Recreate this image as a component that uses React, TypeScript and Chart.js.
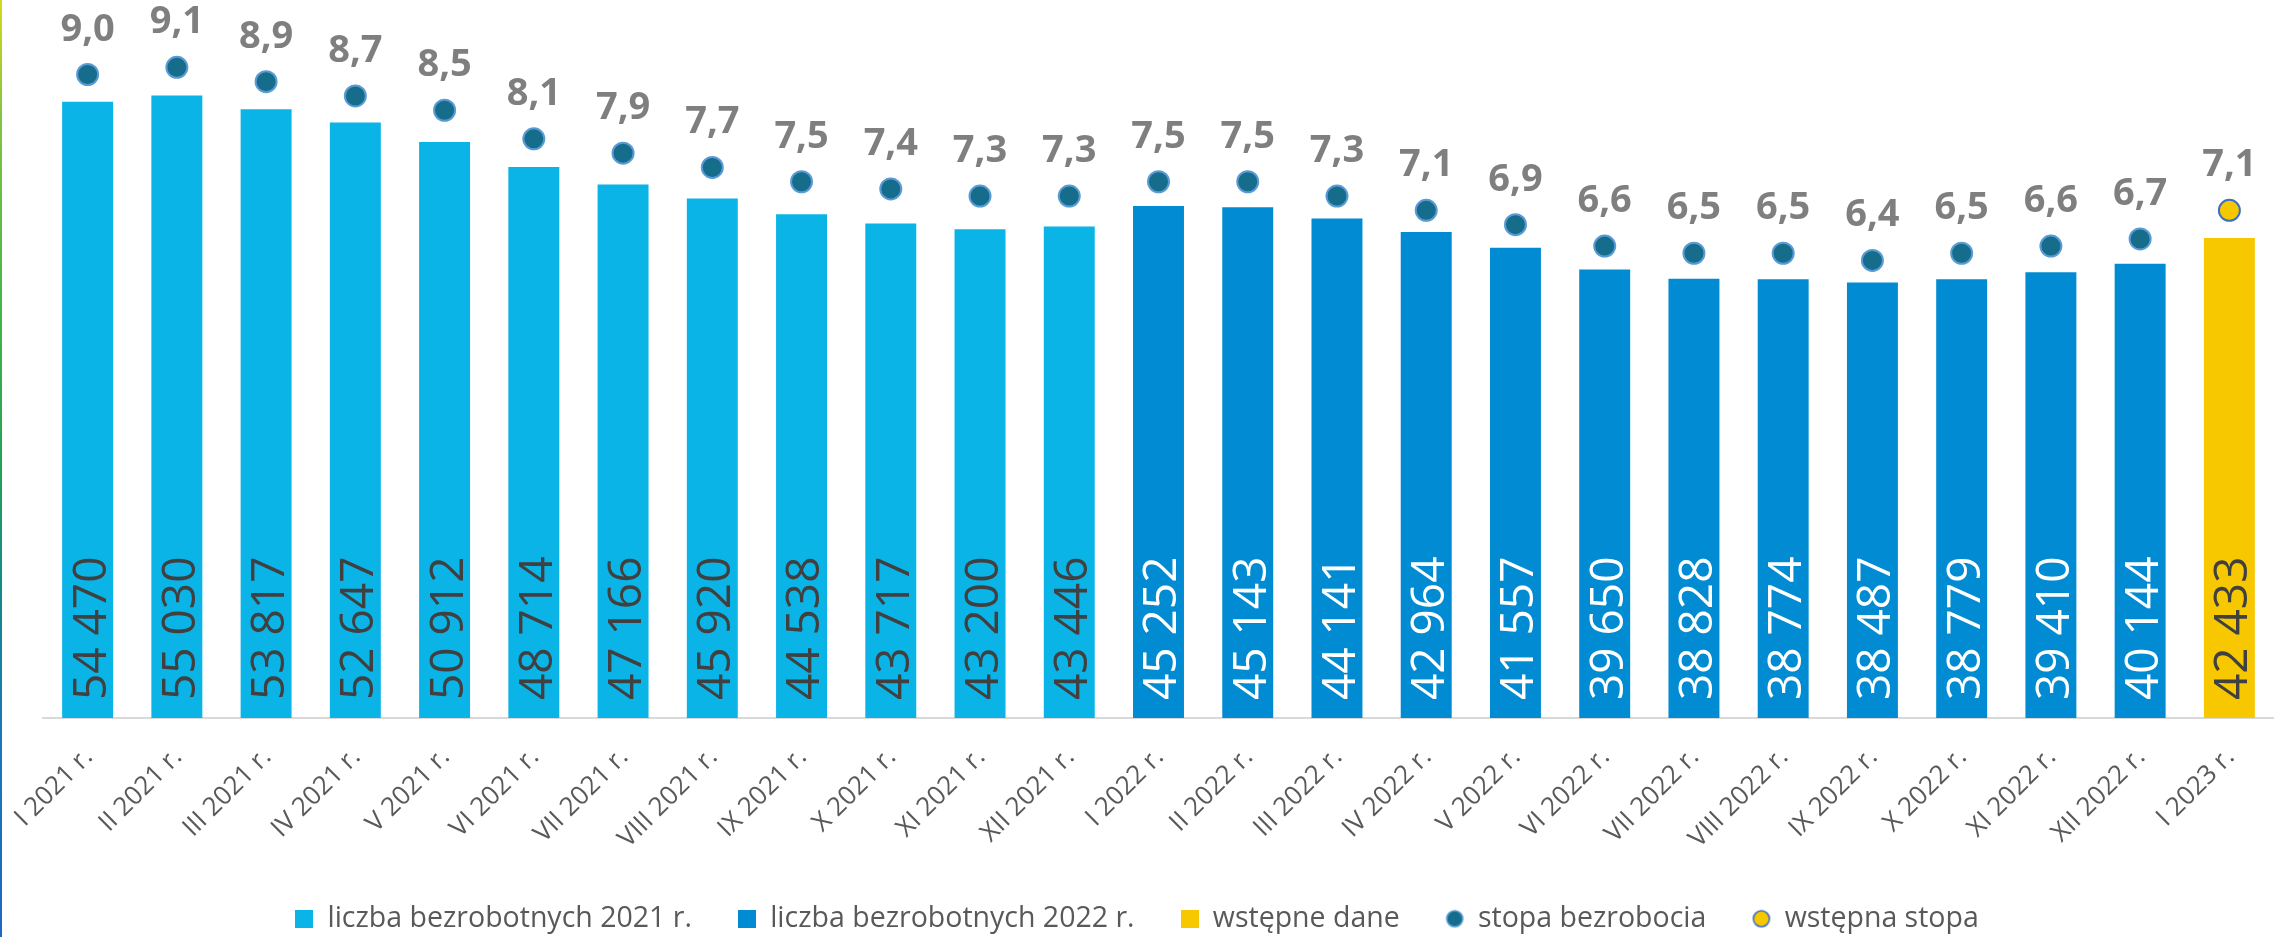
import React, { useEffect, useRef } from 'react';
import { Chart, registerables } from 'chart.js';

Chart.register(...registerables);

const FONT = '"Open Sans", sans-serif';

const categories = [
  'I 2021 r.', 'II 2021 r.', 'III 2021 r.', 'IV 2021 r.', 'V 2021 r.', 'VI 2021 r.',
  'VII 2021 r.', 'VIII 2021 r.', 'IX 2021 r.', 'X 2021 r.', 'XI 2021 r.', 'XII 2021 r.',
  'I 2022 r.', 'II 2022 r.', 'III 2022 r.', 'IV 2022 r.', 'V 2022 r.', 'VI 2022 r.',
  'VII 2022 r.', 'VIII 2022 r.', 'IX 2022 r.', 'X 2022 r.', 'XI 2022 r.', 'XII 2022 r.',
  'I 2023 r.',
];

const unemployed2021 = [54470, 55030, 53817, 52647, 50912, 48714, 47166, 45920, 44538, 43717, 43200, 43446];
const unemployed2022 = [45252, 45143, 44141, 42964, 41557, 39650, 38828, 38774, 38487, 38779, 39410, 40144];
const preliminaryUnemployed = [42433];
const unemploymentRate = [9.0, 9.1, 8.9, 8.7, 8.5, 8.1, 7.9, 7.7, 7.5, 7.4, 7.3, 7.3, 7.5, 7.5, 7.3, 7.1, 6.9, 6.6, 6.5, 6.5, 6.4, 6.5, 6.6, 6.7];
const preliminaryRate = [7.1];

const seriesNames = ['liczba bezrobotnych 2021 r.', 'liczba bezrobotnych 2022 r.', 'wstępne dane', 'stopa bezrobocia', 'wstępna stopa'];

const COLOR_2021 = '#0bb4e6';
const COLOR_2022 = '#008bd2';
const COLOR_PRE = '#f7c800';
const COLOR_RATE = '#156c8b';
const COLOR_RATE_BORDER = '#5b9bd5';
const COLOR_PRE_RATE = '#f7c800';
const COLOR_PRE_RATE_BORDER = '#3d6fc4';

const nulls = (n: number) => new Array(n).fill(null);

function fmtThousands(v: number): string {
  return String(v).replace(/\B(?=(\d{3})+(?!\d))/g, ' ');
}

function makeRectIcon(color: string) {
  const c = document.createElement('canvas');
  c.width = 18; c.height = 18;
  const g = c.getContext('2d')!;
  g.fillStyle = color;
  g.fillRect(0, 0, 18, 18);
  return c;
}

function makeCircleIcon(fill: string, stroke: string) {
  const c = document.createElement('canvas');
  c.width = 20; c.height = 20;
  const g = c.getContext('2d')!;
  g.beginPath();
  g.arc(10, 10, 8, 0, Math.PI * 2);
  g.fillStyle = fill;
  g.fill();
  g.lineWidth = 1.6;
  g.strokeStyle = stroke;
  g.stroke();
  return c;
}

const labelPlugin = {
  id: 'valueLabels',
  afterDatasetsDraw(chart: any) {
    const ctx = chart.ctx;
    chart.data.datasets.forEach((ds: any, i: number) => {
      const meta = chart.getDatasetMeta(i);
      if (meta.hidden) return;
      meta.data.forEach((el: any, j: number) => {
        const v = ds.data[j];
        if (v == null) return;
        ctx.save();
        if (ds.type === 'bar') {
          const fs = 46;
          ctx.translate(el.x + 1.5, el.base - 18);
          ctx.rotate(-Math.PI / 2);
          ctx.font = `${fs}px ${FONT}`;
          ctx.fillStyle = ds.labelColor;
          ctx.textAlign = 'left';
          ctx.textBaseline = 'alphabetic';
          ctx.fillText(fmtThousands(v), 0, fs * 0.357);
        } else {
          ctx.font = `bold 38px ${FONT}`;
          ctx.fillStyle = '#7f7f7f';
          ctx.textAlign = 'center';
          ctx.textBaseline = 'alphabetic';
          ctx.fillText(v.toFixed(1).replace('.', ','), el.x, el.y - 34);
        }
        ctx.restore();
      });
    });
  },
};

// category tick labels, rotated 45 degrees, placed at the x scale's tick pixels
const tickLabelPlugin = {
  id: 'rotatedTicks',
  afterDraw(chart: any) {
    const ctx = chart.ctx;
    const xs = chart.scales.x;
    const labels = chart.data.labels as string[];
    ctx.save();
    ctx.font = `26px ${FONT}`;
    ctx.fillStyle = '#595959';
    ctx.textAlign = 'right';
    ctx.textBaseline = 'middle';
    labels.forEach((lab, i) => {
      const x = xs.getPixelForTick(i);
      ctx.save();
      ctx.translate(x + 1, xs.top + 35);
      ctx.rotate(-Math.PI / 4);
      ctx.fillText(lab, 0, 0);
      ctx.restore();
    });
    ctx.restore();
  },
};

export default function App() {
  const canvasRef = useRef<HTMLCanvasElement | null>(null);

  useEffect(() => {
    document.body.style.margin = '0';
    const canvas = canvasRef.current;
    if (!canvas) return;

    const icons = [
      makeRectIcon(COLOR_2021),
      makeRectIcon(COLOR_2022),
      makeRectIcon(COLOR_PRE),
      makeCircleIcon(COLOR_RATE, COLOR_RATE_BORDER),
      makeCircleIcon(COLOR_PRE_RATE, COLOR_PRE_RATE_BORDER),
    ];

    const barCommon = {
      type: 'bar' as const,
      yAxisID: 'y',
      grouped: false,
      categoryPercentage: 1,
      barPercentage: 0.571,
      borderWidth: 0,
    };
    const pointCommon = {
      type: 'line' as const,
      yAxisID: 'y2',
      showLine: false,
      pointRadius: 10.5,
      pointHoverRadius: 10.5,
      pointBorderWidth: 2,
      clip: false,
    };

    const chart = new Chart(canvas, {
      data: {
        labels: categories,
        datasets: [
          { ...barCommon, label: seriesNames[0], data: [...unemployed2021, ...nulls(13)], backgroundColor: COLOR_2021, labelColor: '#404040' } as any,
          { ...barCommon, label: seriesNames[1], data: [...nulls(12), ...unemployed2022, null], backgroundColor: COLOR_2022, labelColor: '#ffffff' } as any,
          { ...barCommon, label: seriesNames[2], data: [...nulls(24), ...preliminaryUnemployed], backgroundColor: COLOR_PRE, labelColor: '#404040' } as any,
          { ...pointCommon, label: seriesNames[3], data: [...unemploymentRate, null], pointBackgroundColor: COLOR_RATE, pointBorderColor: COLOR_RATE_BORDER, backgroundColor: COLOR_RATE, borderColor: COLOR_RATE_BORDER } as any,
          { ...pointCommon, label: seriesNames[4], data: [...nulls(24), ...preliminaryRate], pointBackgroundColor: COLOR_PRE_RATE, pointBorderColor: COLOR_PRE_RATE_BORDER, backgroundColor: COLOR_PRE_RATE, borderColor: COLOR_PRE_RATE_BORDER } as any,
        ],
      },
      options: {
        responsive: false,
        animation: false,
        devicePixelRatio: 1,
        layout: { autoPadding: false, padding: { left: 0, right: 0, top: 3, bottom: -6 } },
        scales: {
          x: {
            offset: true,
            grid: { display: false, drawTicks: false },
            border: { display: true, color: '#d9d9d9', width: 2 },
            ticks: { display: false },
            afterFit: (scale: any) => { scale.height = 140.5; },
          },
          y: {
            display: true,
            position: 'left',
            min: 0,
            max: 63200,
            grid: { display: false, drawTicks: false },
            border: { display: false },
            ticks: { display: false },
            afterFit: (scale: any) => { scale.width = 43; },
          },
          y2: { display: false, min: 0, max: 10 },
        },
        plugins: {
          tooltip: { enabled: false },
          legend: {
            position: 'bottom',
            labels: {
              usePointStyle: true,
              boxWidth: 18,
              boxHeight: 18,
              padding: 46,
              color: '#595959',
              font: { family: FONT, size: 28.5 },
              generateLabels: (c: any) => {
                const items = (Chart.defaults.plugins.legend.labels as any).generateLabels(c);
                return items.map((it: any, i: number) => ({ ...it, pointStyle: icons[i], fontColor: '#595959' }));
              },
            },
          },
        },
      } as any,
      plugins: [labelPlugin, tickLabelPlugin],
    });

    return () => chart.destroy();
  }, []);

  return (
    <div style={{ position: 'relative', width: 2274, height: 937, background: '#ffffff' }}>
      <div
        style={{
          position: 'absolute', left: 0, top: 0, width: 2, height: 937,
          background: 'linear-gradient(to bottom, #d6d91c 0%, #86c440 12%, #4cb748 30%, #22a257 50%, #118c8a 62%, #1a76bb 80%, #1f67c1 100%)',
        }}
      />
      <canvas ref={canvasRef} width={2274} height={937} style={{ display: 'block', width: 2274, height: 937 }} />
    </div>
  );
}
